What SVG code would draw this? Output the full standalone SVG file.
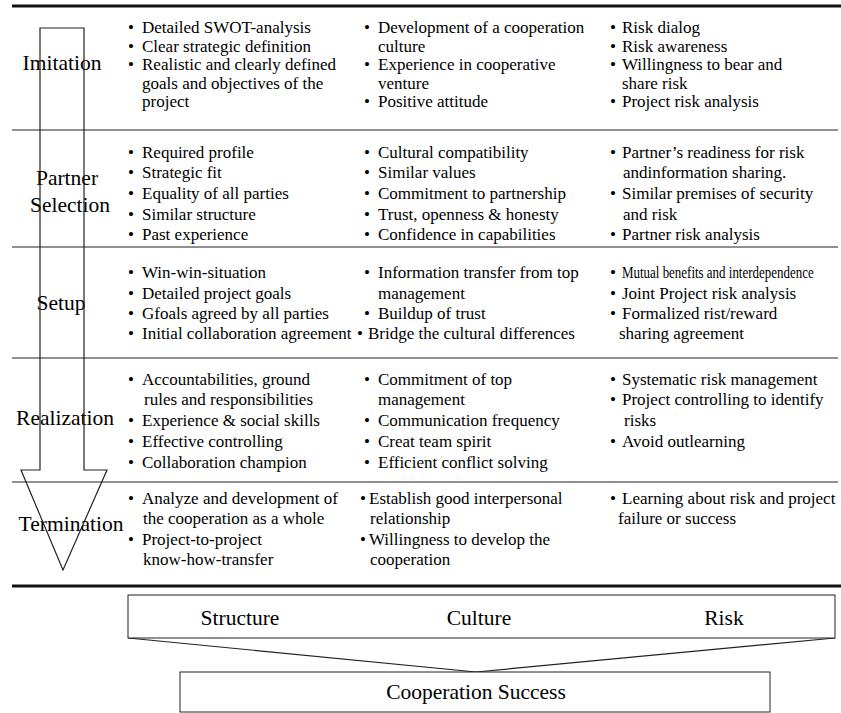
<svg xmlns="http://www.w3.org/2000/svg" width="841" height="713" viewBox="0 0 841 713">
<style>
.t{font-family:"Liberation Serif","Times New Roman",serif;font-size:17px;fill:#000}
.sm{font-family:"Liberation Serif","Times New Roman",serif;font-size:16px;fill:#000}
.lb{font-family:"Liberation Serif","Times New Roman",serif;font-size:21.5px;fill:#000;text-anchor:middle}
.bt{font-family:"Liberation Serif","Times New Roman",serif;font-size:21.5px;fill:#000;text-anchor:middle}
.thin{stroke:#222;stroke-width:1.2;fill:none}
.thick{stroke:#111;stroke-width:3;fill:none}
.box{stroke:#222;stroke-width:1;fill:#fff}
</style>
<rect width="841" height="713" fill="#fff"/>
<g id="grid">
<line class="thick" x1="12" y1="6" x2="841" y2="6"/>
<line class="thin" x1="12" y1="130" x2="838" y2="130"/>
<line class="thin" x1="12" y1="247" x2="838" y2="247"/>
<line class="thin" x1="12" y1="358" x2="838" y2="358"/>
<line class="thin" x1="12" y1="482" x2="838" y2="482"/>
<line class="thick" x1="12" y1="586" x2="841" y2="586"/>
</g>
<g id="labels">
<text class="lb" x="62" y="70">Imitation</text>
<text class="lb" x="67" y="185">Partner</text>
<text class="lb" x="70" y="212">Selection</text>
<text class="lb" x="61" y="310">Setup</text>
<text class="lb" x="65" y="425">Realization</text>
<text class="lb" x="71" y="531">Termination</text>
</g>
<g id="phase-arrow">
<polygon class="thin" points="40,28 84,28 84,470 107,470 63,570 21,470 40,470"/>
</g>
<g id="row-imitation">
<text class="t" y="33"><tspan x="128">• </tspan><tspan x="142">Detailed SWOT-analysis</tspan></text>
<text class="t" y="51.6"><tspan x="128">• </tspan><tspan x="142">Clear strategic definition</tspan></text>
<text class="t" y="70.2"><tspan x="128">• </tspan><tspan x="142">Realistic and clearly defined</tspan></text>
<text class="t" x="142" y="88.8">goals and objectives of the</text>
<text class="t" x="142" y="107.4">project</text>
<text class="t" y="33"><tspan x="364">• </tspan><tspan x="378">Development of a cooperation</tspan></text>
<text class="t" x="378" y="51.6">culture</text>
<text class="t" y="70.2"><tspan x="364">• </tspan><tspan x="378">Experience in cooperative</tspan></text>
<text class="t" x="378" y="88.8">venture</text>
<text class="t" y="107.4"><tspan x="364">• </tspan><tspan x="378">Positive attitude</tspan></text>
<text class="t" y="33"><tspan x="610">• </tspan><tspan x="622">Risk dialog</tspan></text>
<text class="t" y="51.6"><tspan x="610">• </tspan><tspan x="622">Risk awareness</tspan></text>
<text class="t" y="70.2"><tspan x="610">• </tspan><tspan x="622">Willingness to bear and</tspan></text>
<text class="t" x="622" y="88.8">share risk</text>
<text class="t" y="107.4"><tspan x="610">• </tspan><tspan x="622">Project risk analysis</tspan></text>
</g>
<g id="row-partner">
<text class="t" y="158"><tspan x="128">• </tspan><tspan x="142">Required profile</tspan></text>
<text class="t" y="178"><tspan x="128">• </tspan><tspan x="142">Strategic fit</tspan></text>
<text class="t" y="199"><tspan x="128">• </tspan><tspan x="142">Equality of all parties</tspan></text>
<text class="t" y="220"><tspan x="128">• </tspan><tspan x="142">Similar structure</tspan></text>
<text class="t" y="240"><tspan x="128">• </tspan><tspan x="142">Past experience</tspan></text>
<text class="t" y="158"><tspan x="364">• </tspan><tspan x="378">Cultural compatibility</tspan></text>
<text class="t" y="178"><tspan x="364">• </tspan><tspan x="378">Similar values</tspan></text>
<text class="t" y="199"><tspan x="364">• </tspan><tspan x="378">Commitment to partnership</tspan></text>
<text class="t" y="220"><tspan x="364">• </tspan><tspan x="378">Trust, openness &amp; honesty</tspan></text>
<text class="t" y="240"><tspan x="364">• </tspan><tspan x="378">Confidence in capabilities</tspan></text>
<text class="t" y="158"><tspan x="610">• </tspan><tspan x="622">Partner’s readiness for risk</tspan></text>
<text class="t" x="623" y="178">andinformation sharing.</text>
<text class="t" y="199"><tspan x="610">• </tspan><tspan x="622">Similar premises of security</tspan></text>
<text class="t" x="623" y="220">and risk</text>
<text class="t" y="240"><tspan x="610">• </tspan><tspan x="622">Partner risk analysis</tspan></text>
</g>
<g id="row-setup">
<text class="t" y="278"><tspan x="128">• </tspan><tspan x="142">Win-win-situation</tspan></text>
<text class="t" y="299"><tspan x="128">• </tspan><tspan x="142">Detailed project goals</tspan></text>
<text class="t" y="319"><tspan x="128">• </tspan><tspan x="142">Gfoals agreed by all parties</tspan></text>
<text class="t" y="339"><tspan x="128">• </tspan><tspan x="142">Initial collaboration agreement</tspan></text>
<text class="t" y="278"><tspan x="364">• </tspan><tspan x="378">Information transfer from top</tspan></text>
<text class="t" x="378" y="299">management</text>
<text class="t" y="319"><tspan x="364">• </tspan><tspan x="378">Buildup of trust</tspan></text>
<text class="t" y="339"><tspan x="357">• </tspan><tspan x="368">Bridge the cultural differences</tspan></text>
<text class="t" x="610" y="278">•</text>
<text class="sm" transform="translate(622,278) scale(0.81,1)">Mutual benefits and interdependence</text>
<text class="t" y="299"><tspan x="610">• </tspan><tspan x="622">Joint Project risk analysis</tspan></text>
<text class="t" y="319"><tspan x="610">• </tspan><tspan x="622">Formalized rist/reward</tspan></text>
<text class="t" x="619" y="339">sharing agreement</text>
</g>
<g id="row-realization">
<text class="t" y="385"><tspan x="128">• </tspan><tspan x="142">Accountabilities, ground</tspan></text>
<text class="t" x="144" y="405">rules and responsibilities</text>
<text class="t" y="426"><tspan x="128">• </tspan><tspan x="142">Experience &amp; social skills</tspan></text>
<text class="t" y="447"><tspan x="128">• </tspan><tspan x="142">Effective controlling</tspan></text>
<text class="t" y="468"><tspan x="128">• </tspan><tspan x="142">Collaboration champion</tspan></text>
<text class="t" y="385"><tspan x="364">• </tspan><tspan x="378">Commitment of top</tspan></text>
<text class="t" x="378" y="405">management</text>
<text class="t" y="426"><tspan x="364">• </tspan><tspan x="378">Communication frequency</tspan></text>
<text class="t" y="447"><tspan x="364">• </tspan><tspan x="378">Creat team spirit</tspan></text>
<text class="t" y="468"><tspan x="364">• </tspan><tspan x="378">Efficient conflict solving</tspan></text>
<text class="t" y="385"><tspan x="610">• </tspan><tspan x="622">Systematic risk management</tspan></text>
<text class="t" y="405"><tspan x="610">• </tspan><tspan x="622">Project controlling to identify</tspan></text>
<text class="t" x="624" y="426">risks</text>
<text class="t" y="447"><tspan x="610">• </tspan><tspan x="622">Avoid outlearning</tspan></text>
</g>
<g id="row-termination">
<text class="t" y="504"><tspan x="128">• </tspan><tspan x="142">Analyze and development of</tspan></text>
<text class="t" x="143" y="524">the cooperation as a whole</text>
<text class="t" y="545"><tspan x="128">• </tspan><tspan x="142">Project-to-project</tspan></text>
<text class="t" x="143" y="565">know-how-transfer</text>
<text class="t" y="504"><tspan x="360">•</tspan><tspan x="369">Establish good interpersonal</tspan></text>
<text class="t" x="370" y="524">relationship</text>
<text class="t" y="545"><tspan x="360">•</tspan><tspan x="369">Willingness to develop the</tspan></text>
<text class="t" x="370" y="565">cooperation</text>
<text class="t" y="504"><tspan x="610">• </tspan><tspan x="622">Learning about risk and project</tspan></text>
<text class="t" x="618" y="524">failure or success</text>
</g>
<g id="connectors">
<line class="thin" x1="128" y1="638" x2="476" y2="672"/>
<line class="thin" x1="835" y1="638" x2="476" y2="672"/>
</g>
<g id="factors">
<rect class="box" x="128" y="595" width="707" height="43"/>
<text class="bt" x="240" y="625">Structure</text>
<text class="bt" x="479" y="625">Culture</text>
<text class="bt" x="724" y="625">Risk</text>
</g>
<g id="success">
<rect class="box" x="180" y="672" width="590" height="40"/>
<text class="bt" x="476" y="699">Cooperation Success</text>
</g>
</svg>
